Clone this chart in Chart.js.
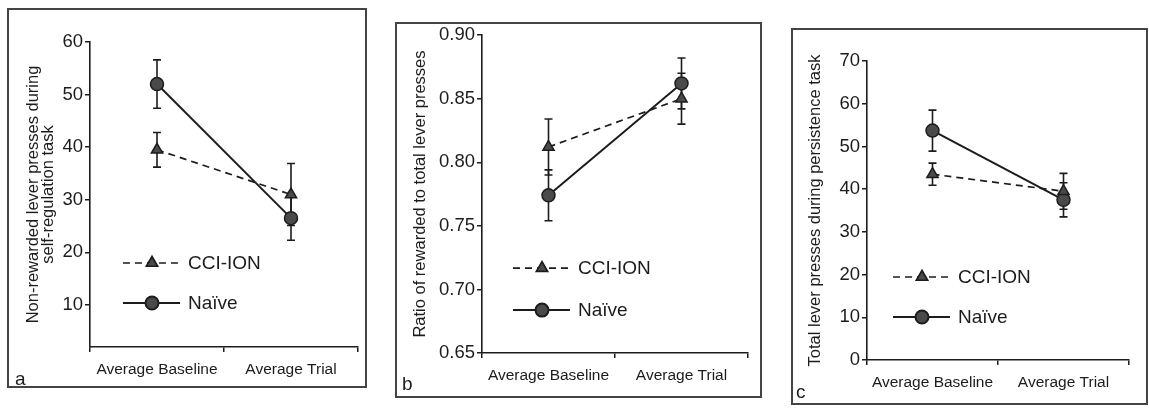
<!DOCTYPE html>
<html>
<head>
<meta charset="utf-8">
<script src="https://cdn.jsdelivr.net/npm/chart.js@4.4.1/dist/chart.umd.min.js"></script>
<style>
  body { margin: 0; background: #fff; width: 1149px; height: 410px; overflow: hidden; position: relative; }
  canvas { position: absolute; }
</style>
</head>
<body>
<canvas id="chart-a" width="360" height="380" style="left:7px;top:8px"></canvas>
<canvas id="chart-b" width="367" height="376" style="left:395px;top:22px"></canvas>
<canvas id="chart-c" width="357" height="377" style="left:791px;top:28px"></canvas>
<script>
var categories = ['Average Baseline', 'Average Trial'];

// a: self-regulation task
var selfRegCci = [39.5, 31.0];
var selfRegCciErr = [3.3, 5.9];
var selfRegNaive = [52.0, 26.5];
var selfRegNaiveErr = [4.6, 4.2];
var selfRegTicks = [10, 20, 30, 40, 50, 60];

// b: ratio rewarded / total
var ratioCci = [0.812, 0.850];
var ratioCciErr = [0.022, 0.020];
var ratioNaive = [0.774, 0.862];
var ratioNaiveErr = [0.020, 0.020];
var ratioTicks = [0.65, 0.70, 0.75, 0.80, 0.85, 0.90];

// c: persistence task
var persistCci = [43.5, 39.5];
var persistCciErr = [2.6, 4.2];
var persistNaive = [53.7, 37.5];
var persistNaiveErr = [4.8, 4.0];
var persistTicks = [0, 10, 20, 30, 40, 50, 60, 70];

var FONT = '"Liberation Sans", Arial, sans-serif';
var INK = '#1c1c1c';

var errorBars = {
  id: 'errorBars',
  beforeDatasetsDraw: function(chart) {
    var ctx = chart.ctx, y = chart.scales.y;
    chart.data.datasets.forEach(function(ds, i) {
      chart.getDatasetMeta(i).data.forEach(function(pt, j) {
        var top = y.getPixelForValue(ds.data[j] + ds.errors[j]);
        var bot = y.getPixelForValue(ds.data[j] - ds.errors[j]);
        ctx.save();
        ctx.strokeStyle = INK;
        ctx.lineWidth = 1.6;
        ctx.beginPath();
        ctx.moveTo(pt.x, top); ctx.lineTo(pt.x, bot);
        ctx.moveTo(pt.x - 4, top); ctx.lineTo(pt.x + 4, top);
        ctx.moveTo(pt.x - 4, bot); ctx.lineTo(pt.x + 4, bot);
        ctx.stroke();
        ctx.restore();
      });
    });
  }
};

// frame, panel letter and the in-plot legend
var panelDecor = {
  id: 'panelDecor',
  afterDraw: function(chart, args, opts) {
    var ctx = chart.ctx, area = chart.chartArea;
    ctx.save();
    ctx.strokeStyle = '#444';
    ctx.lineWidth = 2;
    ctx.strokeRect(1, 1, chart.width - 2, chart.height - 2);

    ctx.fillStyle = INK;
    ctx.font = '19px ' + FONT;
    ctx.textBaseline = 'alphabetic';
    ctx.fillText(opts.letter, opts.letterX, opts.letterY);

    chart.data.datasets.forEach(function(ds, i) {
      var x0 = area.left + opts.legendX, y0 = area.top + opts.legendY[i];
      ctx.strokeStyle = ds.borderColor;
      ctx.lineWidth = ds.borderWidth;
      ctx.setLineDash(ds.borderDash || []);
      ctx.beginPath();
      ctx.moveTo(x0, y0); ctx.lineTo(x0 + 57, y0);
      ctx.stroke();
      ctx.setLineDash([]);
      ctx.fillStyle = ds.pointBackgroundColor;
      ctx.strokeStyle = ds.pointBorderColor;
      Chart.helpers.drawPoint(ctx, {pointStyle: ds.pointStyle, radius: ds.pointRadius, borderWidth: 1.5, rotation: 0}, x0 + 29, y0);
      ctx.fillStyle = INK;
      ctx.font = '19px ' + FONT;
      ctx.textBaseline = 'middle';
      ctx.fillText(ds.label, x0 + 65, y0 + 1);
    });
    ctx.restore();
  }
};

function renderPanel(id, p) {
  return new Chart(document.getElementById(id), {
    type: 'line',
    data: {
      labels: categories,
      datasets: [{
        label: 'CCI-ION',
        data: p.cci,
        errors: p.cciErr,
        borderColor: INK,
        borderWidth: 1.7,
        borderDash: [7, 5],
        pointStyle: 'triangle',
        pointRadius: 6.5,
        pointBackgroundColor: '#4a4a4a',
        pointBorderColor: INK,
        pointBorderWidth: 1.5,
        tension: 0
      }, {
        label: 'Naïve',
        data: p.naive,
        errors: p.naiveErr,
        borderColor: INK,
        borderWidth: 2,
        pointStyle: 'circle',
        pointRadius: 6.5,
        pointBackgroundColor: '#4a4a4a',
        pointBorderColor: INK,
        pointBorderWidth: 1.5,
        tension: 0
      }]
    },
    options: {
      responsive: false,
      animation: false,
      layout: { padding: { top: p.area.top, right: p.area.right, left: 0, bottom: 0 } },
      plugins: {
        legend: { display: false },
        tooltip: { enabled: false },
        panelDecor: p.decor
      },
      scales: {
        x: {
          offset: true,
          grid: { display: true, drawOnChartArea: false, offset: true, tickLength: 5, color: INK, lineWidth: 1.5 },
          border: { color: INK, width: 1.6 },
          ticks: { color: INK, font: { family: FONT, size: 15.5 }, padding: 8, maxRotation: 0 },
          afterFit: function(s) { s.height = p.area.bottom; }
        },
        y: {
          min: p.min,
          max: p.max,
          afterBuildTicks: function(s) { s.ticks = p.ticks.map(function(v) { return { value: v }; }); },
          grid: { display: true, drawOnChartArea: false, tickLength: 5, color: INK, lineWidth: 1.5 },
          border: { color: INK, width: 1.6 },
          ticks: {
            color: INK,
            font: { family: FONT, size: 18.5 },
            padding: 2,
            callback: function(v) { return v.toFixed(p.decimals); }
          },
          title: {
            display: true,
            text: p.title,
            color: INK,
            font: { family: FONT, size: 16.5, lineHeight: 0.9 },
            padding: { top: p.titlePad, bottom: 0 }
          },
          afterFit: function(s) { s.width = p.area.left; }
        }
      }
    },
    plugins: [errorBars, panelDecor]
  });
}

renderPanel('chart-a', {
  cci: selfRegCci, cciErr: selfRegCciErr, naive: selfRegNaive, naiveErr: selfRegNaiveErr,
  min: 2, max: 60, ticks: selfRegTicks, decimals: 0,
  title: ['Non-rewarded lever presses during', 'self-regulation task'], titlePad: 19,
  area: { left: 83, top: 34, right: 9, bottom: 41 },
  decor: { letter: 'a', letterX: 8, letterY: 377, legendX: 33, legendY: [221, 261] }
});

renderPanel('chart-b', {
  cci: ratioCci, cciErr: ratioCciErr, naive: ratioNaive, naiveErr: ratioNaiveErr,
  min: 0.65, max: 0.90, ticks: ratioTicks, decimals: 2,
  title: 'Ratio of rewarded to total lever presses', titlePad: 18,
  area: { left: 87, top: 13, right: 14, bottom: 45 },
  decor: { letter: 'b', letterX: 7, letterY: 368, legendX: 31, legendY: [233, 275] }
});

renderPanel('chart-c', {
  cci: persistCci, cciErr: persistCciErr, naive: persistNaive, naiveErr: persistNaiveErr,
  min: 0, max: 70, ticks: persistTicks, decimals: 0,
  title: 'Total lever presses during persistence task', titlePad: 17,
  area: { left: 76, top: 33, right: 19, bottom: 45 },
  decor: { letter: 'c', letterX: 5, letterY: 370, legendX: 26, legendY: [216, 256] }
});
</script>
</body>
</html>
